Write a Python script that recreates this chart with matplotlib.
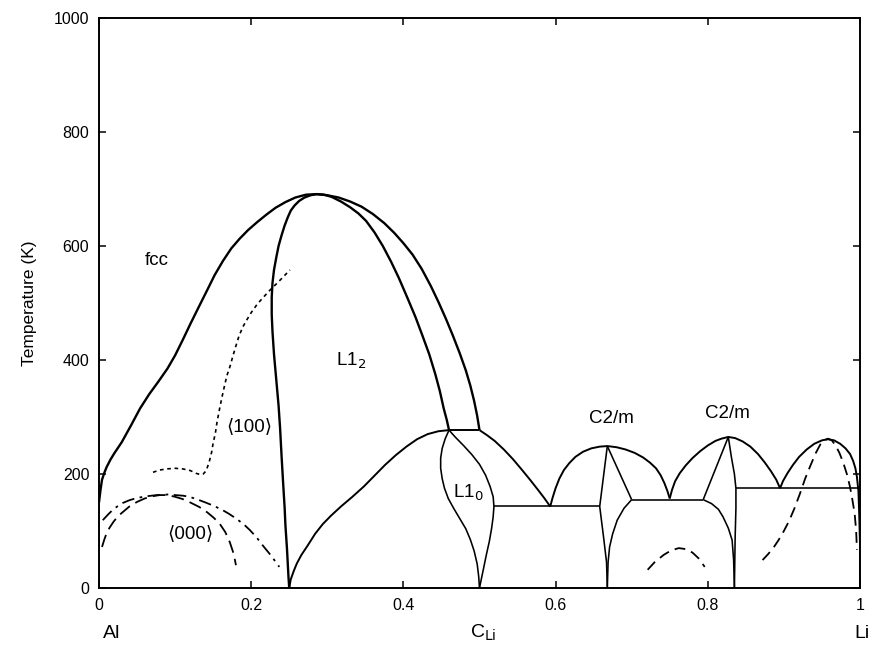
"""Al-Li phase diagram: temperature vs Li concentration."""

import matplotlib
matplotlib.use("Agg")
import matplotlib.pyplot as plt

plt.rcParams["font.family"] = ["Liberation Sans", "DejaVu Sans"]

# ---- phase boundaries: (C_Li, T[K]) ----
fcc_outer = [(0.0, 150), (0.002, 172), (0.004, 190), (0.007, 202), (0.01, 212),
             (0.015, 225), (0.02, 236), (0.03, 256), (0.042, 285), (0.054, 315),
             (0.066, 340), (0.078, 362), (0.09, 385), (0.1, 408), (0.11, 435),
             (0.12, 463), (0.13, 490), (0.142, 522), (0.152, 549), (0.163, 574),
             (0.174, 596), (0.185, 613), (0.196, 628), (0.208, 642), (0.22, 655),
             (0.232, 667), (0.245, 677), (0.258, 685), (0.272, 690), (0.286, 691),
             (0.30, 689), (0.315, 685), (0.33, 678), (0.345, 669), (0.36, 656),
             (0.375, 640), (0.388, 623), (0.40, 605), (0.412, 585), (0.424, 560),
             (0.436, 530), (0.446, 502), (0.456, 472), (0.465, 443), (0.474, 412),
             (0.482, 382), (0.488, 355), (0.493, 328), (0.497, 302), (0.50, 277)]
l12_inner = [(0.286, 691), (0.296, 690), (0.306, 686), (0.318, 678), (0.33, 668),
             (0.341, 657), (0.351, 644), (0.362, 624), (0.373, 600), (0.384, 572),
             (0.394, 544), (0.405, 510), (0.416, 475), (0.425, 443), (0.434, 410),
             (0.442, 375), (0.448, 345), (0.453, 315), (0.457, 295), (0.46, 277)]
l12_left = [(0.286, 691), (0.278, 689), (0.27, 685), (0.263, 679), (0.257, 671),
            (0.252, 662), (0.248, 650), (0.244, 636), (0.24, 619), (0.236, 600),
            (0.233, 580), (0.23, 558), (0.228, 535), (0.227, 510), (0.227, 480),
            (0.228, 450), (0.23, 410), (0.233, 365), (0.236, 320), (0.238, 280),
            (0.24, 230), (0.242, 184), (0.244, 140), (0.245, 110), (0.247, 70),
            (0.248, 45), (0.249, 20), (0.25, 0)]
l12_lower = [(0.25, 0), (0.252, 15), (0.256, 30), (0.26, 43), (0.266, 58),
             (0.274, 74), (0.284, 95), (0.294, 112), (0.305, 127), (0.318, 143),
             (0.333, 160), (0.348, 178), (0.362, 197), (0.376, 216), (0.39, 233),
             (0.404, 248), (0.418, 261), (0.432, 270), (0.446, 275), (0.46, 277)]
l12_top = [(0.46, 277), (0.50, 277)]
l10_dome_right = [(0.50, 277), (0.51, 268), (0.52, 258), (0.532, 243),
                  (0.544, 226), (0.556, 207), (0.567, 189), (0.577, 172),
                  (0.585, 158), (0.593, 143)]
l10_left = [(0.46, 277), (0.455, 262), (0.451, 245), (0.449, 228), (0.449, 210),
            (0.451, 192), (0.454, 175), (0.459, 157), (0.466, 140), (0.474, 122),
            (0.482, 104), (0.488, 85), (0.493, 65), (0.497, 42), (0.499, 20),
            (0.50, 0)]
l10_right = [(0.46, 277), (0.468, 265), (0.479, 250), (0.49, 234), (0.50, 217),
             (0.508, 198), (0.514, 178), (0.518, 160), (0.519, 143), (0.518, 125),
             (0.516, 105), (0.513, 82), (0.509, 58), (0.505, 32), (0.50, 0)]
two_phase_143 = [(0.519, 143), (0.658, 143)]

c2m1_dome = [(0.593, 143), (0.596, 158), (0.60, 175), (0.605, 192), (0.611, 207),
             (0.618, 219), (0.626, 230), (0.636, 239), (0.647, 245), (0.658, 248),
             (0.668, 249), (0.68, 247), (0.692, 243), (0.704, 237), (0.715, 229),
             (0.724, 220), (0.732, 210), (0.738, 198), (0.743, 184), (0.747, 170),
             (0.75, 157)]
c2m1_left = [(0.668, 249), (0.658, 143), (0.663, 90), (0.667, 45), (0.668, 0)]
c2m1_right = [(0.668, 249), (0.70, 155)]
c2m1_lens = [(0.70, 155), (0.69, 140), (0.681, 119), (0.675, 95), (0.671, 72),
             (0.669, 45), (0.668, 0)]
two_phase_155 = [(0.70, 155), (0.794, 155)]

c2m2_dome = [(0.75, 157), (0.753, 172), (0.757, 187), (0.763, 201), (0.771, 215),
             (0.78, 228), (0.79, 240), (0.80, 250), (0.81, 258), (0.818, 262),
             (0.827, 265), (0.836, 263), (0.846, 257), (0.856, 248), (0.866, 235),
             (0.875, 220), (0.883, 205), (0.89, 190), (0.895, 175)]
c2m2_left = [(0.827, 265), (0.794, 155)]
c2m2_lens = [(0.794, 155), (0.805, 148), (0.814, 138), (0.82, 125), (0.827, 105),
             (0.832, 84), (0.834, 49), (0.835, 0)]
c2m2_mid = [(0.827, 265), (0.831, 230), (0.835, 200), (0.837, 175), (0.837, 140),
            (0.836, 90), (0.835, 0)]
two_phase_175 = [(0.837, 175), (0.997, 175)]

li_dome = [(0.895, 175), (0.899, 188), (0.905, 202), (0.912, 216), (0.92, 230),
           (0.93, 243), (0.94, 253), (0.95, 259), (0.958, 261), (0.966, 259),
           (0.974, 253), (0.981, 245), (0.987, 235), (0.991, 223), (0.994, 210),
           (0.996, 195), (0.998, 170), (0.999, 130), (1.0, 80), (1.0, 0)]

# ---- calculated instability lines ----
line_100 = [(0.071, 203), (0.08, 207), (0.09, 209), (0.1, 210), (0.11, 209),
            (0.12, 206), (0.128, 201), (0.133, 199), (0.137, 200), (0.141, 206),
            (0.145, 222), (0.148, 238), (0.15, 254), (0.153, 272), (0.155, 290),
            (0.159, 318), (0.162, 337), (0.165, 355), (0.168, 372), (0.172, 388),
            (0.176, 407), (0.18, 425), (0.184, 442), (0.189, 458), (0.195, 472),
            (0.2, 483), (0.208, 498), (0.216, 510), (0.225, 523), (0.235, 536),
            (0.243, 547), (0.251, 558)]
line_dashdot = [(0.005, 119), (0.012, 129), (0.018, 137), (0.025, 144), (0.031, 149),
                (0.04, 154), (0.05, 158), (0.063, 161), (0.076, 163), (0.09, 164),
                (0.1, 163), (0.11, 162), (0.119, 160), (0.13, 155), (0.14, 150),
                (0.151, 144), (0.162, 137), (0.171, 130), (0.18, 122), (0.19, 112),
                (0.198, 102), (0.207, 89), (0.215, 75), (0.226, 57), (0.237, 37)]
line_000 = [(0.004, 72), (0.007, 85), (0.01, 96), (0.014, 106), (0.019, 116),
            (0.025, 126), (0.032, 134), (0.04, 143), (0.05, 151), (0.06, 157),
            (0.07, 161), (0.08, 163), (0.09, 163), (0.1, 160), (0.11, 156),
            (0.12, 150), (0.132, 142), (0.142, 133), (0.151, 123), (0.159, 112),
            (0.166, 98), (0.172, 80), (0.177, 60), (0.18, 40)]
line_mid_dash = [(0.721, 32), (0.73, 45), (0.742, 58), (0.752, 66), (0.762, 70),
                 (0.772, 68), (0.78, 62), (0.788, 52), (0.796, 37)]
line_li_dash = [(0.872, 49), (0.879, 59), (0.886, 70), (0.893, 84), (0.90, 100),
                (0.907, 118), (0.914, 140), (0.921, 165), (0.928, 192), (0.935, 215),
                (0.942, 237), (0.948, 252), (0.953, 259), (0.958, 262), (0.963, 259),
                (0.968, 250), (0.973, 237), (0.978, 220), (0.983, 199), (0.987, 177),
                (0.99, 155), (0.993, 131), (0.995, 100), (0.996, 67)]

# ---- region labels: (text, C_Li, T) ----
labels = [("fcc", 0.076, 575), (r"L1$_2$", 0.331, 398),
          ("\u27e8100\u27e9", 0.197, 284), ("\u27e8000\u27e9", 0.12, 96),
          (r"L1$_0$", 0.485, 167), ("C2/m", 0.673, 297), ("C2/m", 0.826, 307)]

xticks = [0, 0.2, 0.4, 0.6, 0.8, 1]
xticklabels = ["0", "0.2", "0.4", "0.6", "0.8", "1"]
yticks = [0, 200, 400, 600, 800, 1000]


def draw(ax, pts, lw, **kw):
    xs = [p[0] for p in pts]
    ys = [p[1] for p in pts]
    ax.plot(xs, ys, color="black", lw=lw, solid_joinstyle="round",
            solid_capstyle="butt", **kw)


fig = plt.figure(figsize=(8.69, 6.47), dpi=100)
ax = fig.add_axes([0.1139, 0.0912, 0.8757, 0.881])

for curve in (fcc_outer, l12_inner, l12_left):
    draw(ax, curve, 1.7)
for curve in (l12_lower, l12_top, l10_dome_right, c2m1_dome, c2m2_dome, li_dome):
    draw(ax, curve, 1.4)
for curve in (l10_left, l10_right, two_phase_143, c2m1_left, c2m1_right,
              c2m1_lens, two_phase_155, c2m2_left, c2m2_lens, c2m2_mid,
              two_phase_175):
    draw(ax, curve, 1.15)

draw(ax, line_100, 1.2, linestyle=(0, (2.2, 2.2)))
draw(ax, line_dashdot, 1.3, linestyle=(0, (7, 3, 1.5, 3)))
draw(ax, line_000, 1.3, linestyle=(0, (7, 3.5)))
draw(ax, line_mid_dash, 1.3, linestyle=(0, (6, 3.5)))
draw(ax, line_li_dash, 1.3, linestyle=(0, (6, 3.5)))

for txt, cx, ty in labels:
    ax.text(cx, ty, txt, ha="center", va="center", fontsize=13.5)

ax.set_xlim(0, 1)
ax.set_ylim(0, 1000)
ax.set_xticks(xticks)
ax.set_xticklabels(xticklabels)
ax.set_yticks(yticks)
ax.tick_params(direction="in", length=5, width=1.1, top=True, right=True,
               labelsize=11.5, pad=7)
for s in ax.spines.values():
    s.set_linewidth(1.4)
ax.set_ylabel("Temperature (K)", fontsize=12.5, labelpad=12)

fig.text(112 / 869, 1 - 633 / 647, "Al", ha="center", va="center", fontsize=14)
fig.text(483 / 869, 1 - 633 / 647, r"C$_{\mathrm{Li}}$", ha="center", va="center",
         fontsize=14)
fig.text(862 / 869, 1 - 633 / 647, "Li", ha="center", va="center", fontsize=14)

fig.savefig("out.png", dpi=100)
